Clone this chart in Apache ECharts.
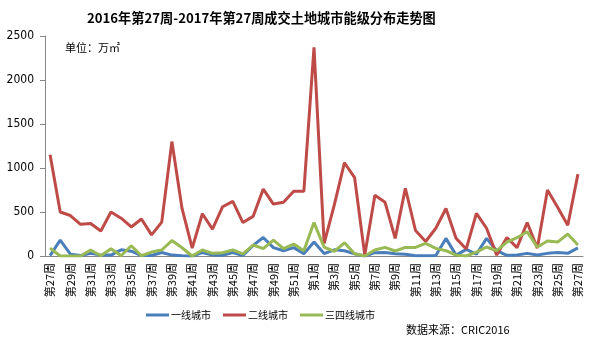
<!DOCTYPE html>
<html><head><meta charset="utf-8">
<script src="https://cdn.jsdelivr.net/npm/echarts@6/dist/echarts.min.js"></script>
<style>html,body{margin:0;padding:0;background:#fff}#c{width:593px;height:340px}</style>
</head><body><div id="c"></div>
<script>
const weeks2016 = [27,28,29,30,31,32,33,34,35,36,37,38,39,40,41,42,43,44,45,46,47,48,49,50,51,52];
const weeks2017 = [1,2,3,4,5,6,7,8,9,10,11,12,13,14,15,16,17,18,19,20,21,22,23,24,25,26,27];
const categories = weeks2016.concat(weeks2017).map(w => '第' + w + '周');
const tier1 = [5,180,20,5,30,10,10,70,55,5,5,40,10,3,0,40,10,8,40,5,120,210,95,60,95,26,160,
  28,70,60,26,0,38,40,26,20,2,2,5,200,10,75,20,200,60,8,12,30,12,30,40,30,92];
const tier2 = [1150,500,460,360,370,285,500,430,330,420,240,385,1300,540,90,480,305,560,620,380,450,760,590,610,735,735,2370,
  144,580,1060,890,10,690,610,200,770,290,165,315,540,200,80,485,315,10,210,95,380,90,750,555,350,930];
const tier34 = [90,0,0,0,68,3,83,3,117,3,45,68,175,94,0,68,30,38,68,23,125,83,180,83,136,60,380,
  100,52,150,26,0,68,98,57,98,98,144,87,60,10,0,45,102,60,158,208,275,102,170,158,250,125];
const yTicks = [0,500,1000,1500,2000,2500];
const seriesNames = ['一线城市','二线城市','三四线城市'];
const colors = ['#4a7ebb','#be4b48','#98b954'];

const chart = echarts.init(document.getElementById('c'));
const mk = (name, data, color) => ({
  name, type:'line', data, symbol:'none', smooth:false,
  lineStyle:{width:3, color}, itemStyle:{color}, z: 2
});
chart.setOption({
  animation:false,
  title:{text:'2016年第27周-2017年第27周成交土地城市能级分布走势图', left:82, top:6,
    textStyle:{fontFamily:'Noto Sans CJK SC', fontSize:13.2, fontWeight:'bold', color:'#000'}},
  grid:{left:45, right:10, top:36, bottom:84},
  legend:{data:seriesNames, left:141, top:305, itemWidth:23, itemHeight:3, itemGap:12,
    icon:'rect',
    textStyle:{fontFamily:'Noto Sans CJK SC', fontSize:10, color:'#000', padding:[0,0,0,-3]}},
  xAxis:{type:'category', data:categories, boundaryGap:true,
    axisLine:{lineStyle:{color:'#868686', width:1}},
    axisTick:{interval:0, length:4, lineStyle:{color:'#868686'}},
    axisLabel:{interval:1, rotate:90, margin:7, fontSize:11, color:'#000',
      fontFamily:'Noto Sans CJK SC'}},
  yAxis:{type:'value', min:yTicks[0], max:yTicks[yTicks.length-1], interval:500,
    axisLine:{show:true, lineStyle:{color:'#868686'}},
    axisTick:{show:true, length:5, lineStyle:{color:'#868686'}},
    splitLine:{show:false},
    axisLabel:{fontSize:12, color:'#000', margin:11, fontFamily:'DejaVu Sans Condensed',
      formatter: v => String(v)}},
  graphic:[
    {type:'text', left:65, top:42, style:{text:'单位：万㎡', font:'11px "Noto Sans CJK SC"', fill:'#000'}},
    {type:'text', left:406, top:324, style:{text:'数据来源：CRIC2016', font:'11px "Noto Sans CJK SC"', fill:'#000'}}
  ],
  series:[mk(seriesNames[0], tier1, colors[0]), mk(seriesNames[1], tier2, colors[1]), mk(seriesNames[2], tier34, colors[2])]
});
</script></body></html>
